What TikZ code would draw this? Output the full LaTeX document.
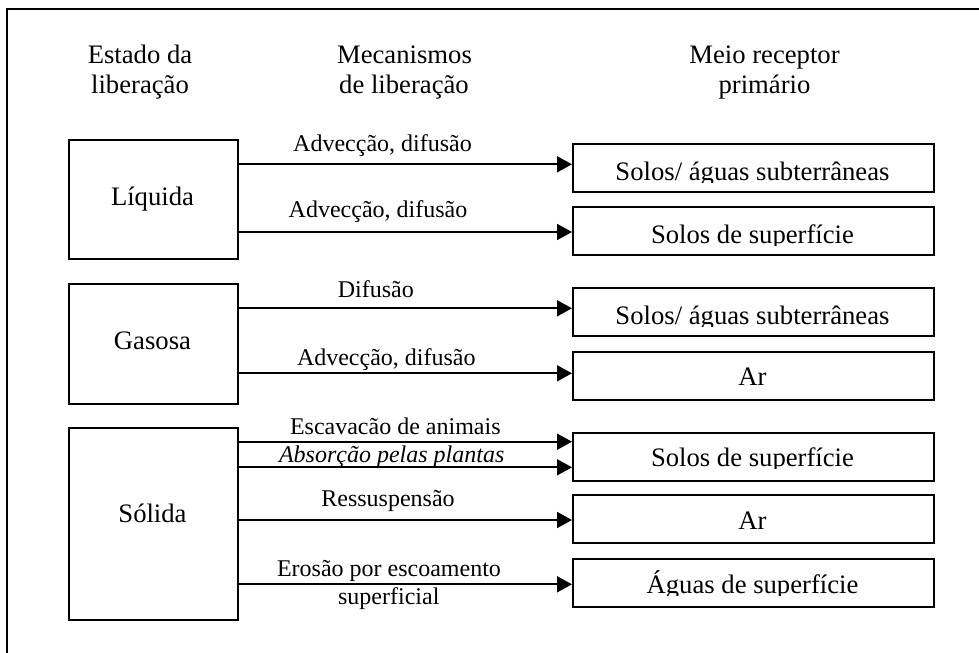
\documentclass[tikz,border=0pt]{standalone}
\usepackage{fontspec}
\setmainfont{Liberation Serif}[ItalicFont={Liberation Serif Italic}]
\usetikzlibrary{arrows.meta}
\begin{document}
\begin{tikzpicture}[x=0.75pt,y=-0.75pt,
  big/.style={font=\fontsize{20}{24}\selectfont, inner sep=0pt, anchor=base},
  lab/.style={font=\fontsize{18}{21.6}\selectfont, inner sep=0pt, anchor=base},
  statebox/.style={draw, line width=1.3pt, anchor=north west, inner sep=0pt, minimum width=126.75pt},
  recvbox/.style={draw, line width=1.3pt, anchor=north west, inner sep=0pt, minimum width=270.75pt, minimum height=36pt},
  arr/.style={line width=1.3pt, -{Triangle[length=11.25pt,width=12pt]}},
  frameline/.style={line width=1.5pt}]
\clip (0,0) rectangle (979,653);
% outer frame (right and bottom edges lie outside the picture)
\draw[frameline] (7,670) -- (7,9) -- (1000,9);

% headers
\node[big] (h1a) at (140,63.3) {Estado da};
\node[big] (h1b) at (140,93.3) {liberação};
\node[big] (h2a) at (404.5,63.3) {Mecanismos};
\node[big] (h2b) at (404,93.3) {de liberação};
\node[big] (h3a) at (764.5,63.3) {Meio receptor};
\node[big] (h3b) at (764.5,93.3) {primário};

% state boxes
\node[statebox, minimum height=89.25pt] (liq) at (68,139) {};
\node[big] (liqt) at (152.5,205) {Líquida};
\node[statebox, minimum height=90pt] (gas) at (68,283) {};
\node[big] (gast) at (152.5,349.3) {Gasosa};
\node[statebox, minimum height=144pt] (sol) at (68,427) {};
\node[big] (solt) at (152.5,522.3) {Sólida};

% receptor boxes
\node[recvbox] (r1) at (572,143.3) {};
\node[recvbox] (r2) at (572,206) {};
\node[recvbox] (r3) at (572,287) {};
\node[recvbox] (r4) at (572,351) {};
\node[recvbox] (r5) at (572,432) {};
\node[recvbox] (r6) at (572,494) {};
\node[recvbox] (r7) at (572,558) {};

\begin{scope}\clip (572,143.3) rectangle (933,182.5);
\node[big] (r1t) at (752.5,180.5) {Solos/ águas subterrâneas};\end{scope}
\begin{scope}\clip (572,206) rectangle (933,245);
\node[big] (r2t) at (752.5,243.3) {Solos de superfície};\end{scope}
\begin{scope}\clip (572,287) rectangle (933,326);
\node[big] (r3t) at (752.5,324) {Solos/ águas subterrâneas};\end{scope}
\begin{scope}\clip (572,351) rectangle (933,388);
\node[big] (r4t) at (752.5,385.7) {Ar};\end{scope}
\begin{scope}\clip (572,432) rectangle (933,468.5);
\node[big] (r5t) at (752.5,466.7) {Solos de superfície};\end{scope}
\begin{scope}\clip (572,494) rectangle (933,531.5);
\node[big] (r6t) at (752.5,529.3) {Ar};\end{scope}
\begin{scope}\clip (572,558) rectangle (933,595.5);
\node[big] (r7t) at (752.5,593.3) {Águas de superfície};\end{scope}

% arrow heights
\coordinate (y1) at (0,164.3);
\coordinate (y2) at (0,232);
\coordinate (y3) at (0,308.3);
\coordinate (y4) at (0,373.3);
\coordinate (y5) at (0,441.7);
\coordinate (y6) at (0,467.3);
\coordinate (y7) at (0,520);
\coordinate (y8) at (0,584.3);

\draw[arr] (liq.east |- y1) -- (r1.west |- y1);
\draw[arr] (liq.east |- y2) -- (r2.west |- y2);
\draw[arr] (gas.east |- y3) -- (r3.west |- y3);
\draw[arr] (gas.east |- y4) -- (r4.west |- y4);
\draw[arr] (sol.east |- y5) -- (r5.west |- y5);
\draw[arr] (sol.east |- y6) -- (r5.west |- y6);
\draw[arr] (sol.east |- y7) -- (r6.west |- y7);
\draw[arr] (sol.east |- y8) -- (r7.west |- y8);

% mechanism labels
\node[lab] (m1) at (382.5,151) {Advecção, difusão};
\node[lab] (m2) at (378,217.7) {Advecção, difusão};
\node[lab] (m3) at (375.8,297.7) {Difusão};
\node[lab] (m4) at (386.3,365) {Advecção, difusão};
\node[lab] (m5) at (395.3,434.3) {Escavacão de animais};
\node[lab] (m6) at (391.7,462.7) {\itshape Absorção pelas plantas};
\node[lab] (m7) at (388,506.7) {Ressuspensão};
\node[lab] (m8) at (389,576.7) {Erosão por escoamento};
\node[lab] (m9) at (388.8,604) {superficial};
\end{tikzpicture}
\end{document}
